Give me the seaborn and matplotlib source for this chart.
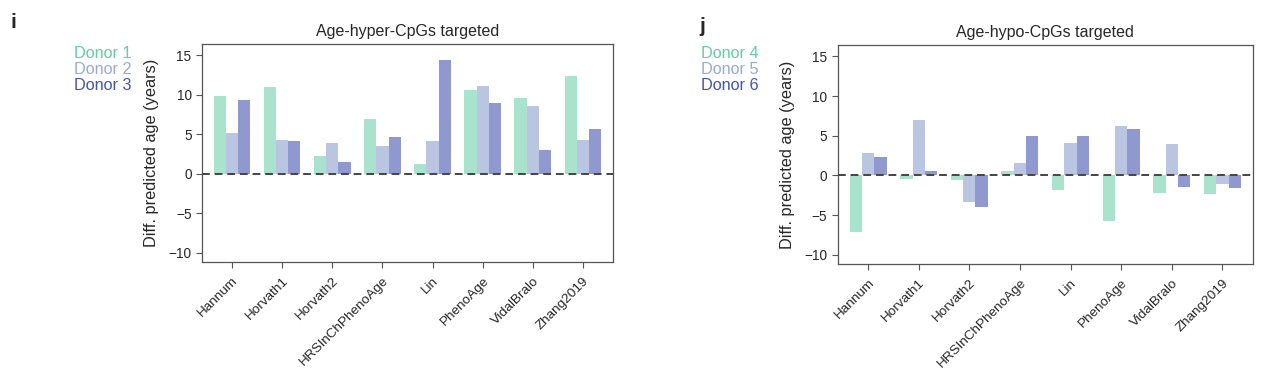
import matplotlib
matplotlib.use("Agg")
import matplotlib.pyplot as plt
import seaborn as sns
import pandas as pd

sns.set_style("ticks")
plt.rcParams['font.family'] = ['Liberation Sans', 'DejaVu Sans']

clocks = ["Hannum", "Horvath1", "Horvath2", "HRSInChPhenoAge", "Lin", "PhenoAge", "VidalBralo", "Zhang2019"]

donor1 = [9.8, 11.0, 2.2, 6.9, 1.2, 10.6, 9.6, 12.4]
donor2 = [5.2, 4.3, 3.9, 3.5, 4.1, 11.1, 8.6, 4.2]
donor3 = [9.3, 4.1, 1.5, 4.7, 14.4, 9.0, 3.0, 5.7]

donor4 = [-7.1, -0.5, -0.6, 0.5, -1.8, -5.8, -2.2, -2.3]
donor5 = [2.8, 7.0, -3.4, 1.6, 4.1, 6.2, 3.9, -1.1]
donor6 = [2.3, 0.5, -4.0, 5.0, 5.0, 5.8, -1.4, -1.6]

hyper_names = ["Donor 1", "Donor 2", "Donor 3"]
hypo_names = ["Donor 4", "Donor 5", "Donor 6"]

bar_colors = ["#a9e2cd", "#bac5e2", "#8f98cf"]
text_colors = ["#66cca5", "#99a8d8", "#4454b0"]


def long_df(series, names):
    rows = []
    for name, vals in zip(names, series):
        for c, v in zip(clocks, vals):
            rows.append({"clock": c, "donor": name, "value": v})
    return pd.DataFrame(rows)


fig = plt.figure(figsize=(12.72, 3.72), dpi=100)
ax1 = fig.add_axes([0.1588, 0.2949, 0.3231, 0.5868])
ax2 = fig.add_axes([0.6586, 0.2895, 0.3263, 0.5887])

panels = [
    (ax1, long_df([donor1, donor2, donor3], hyper_names), hyper_names, "Age-hyper-CpGs targeted",
     "i", 11, 23, 74, -0.105),
    (ax2, long_df([donor4, donor5, donor6], hypo_names), hypo_names, "Age-hypo-CpGs targeted",
     "j", 699, 26, 701.5, -0.103),
]

for ax, df, names, title, letter, lx, ly, tx0, ylx in panels:
    sns.barplot(data=df, x="clock", y="value", hue="donor", hue_order=names,
                order=clocks, palette=bar_colors, width=0.73, linewidth=0,
                saturation=1, ax=ax, legend=False, errorbar=None)
    ax.axhline(0, color="#444444", ls=(0, (4, 2.5)), lw=1.4, zorder=5)
    ax.set_ylim(-11.2, 16.4)
    ax.set_xlim(-0.6, 7.6)
    ax.set_yticks([-10, -5, 0, 5, 10, 15])
    ax.set_yticklabels(["\u221210", "\u22125", "0", "5", "10", "15"])
    ax.set_xlabel("")
    ax.set_ylabel("Diff. predicted age (years)", fontsize=11.8)
    ax.yaxis.set_label_coords(ylx, 0.5)
    ax.set_title(title, fontsize=11.5, pad=6)
    ax.tick_params(axis="both", length=4, width=0.8, color="#555555", direction="out")
    ax.tick_params(axis="y", labelsize=9.8)
    ax.tick_params(axis="x", labelsize=9.7, pad=5)
    for lab in ax.get_xticklabels():
        lab.set_rotation(45)
        lab.set_ha("right")
        lab.set_rotation_mode("anchor")
    for s in ax.spines.values():
        s.set_visible(True)
        s.set_color("#555555")
        s.set_linewidth(0.9)
    fig.text(lx / 1272, 1 - ly / 372, letter, fontsize=15, fontweight="bold", ha="left", va="center")
    for k, (n, col) in enumerate(zip(names, text_colors)):
        fig.text(tx0 / 1272, 1 - (54 + 16 * k) / 372, n, color=col, fontsize=11.7,
                 ha="left", va="center")

fig.savefig("out.png", dpi=100)
